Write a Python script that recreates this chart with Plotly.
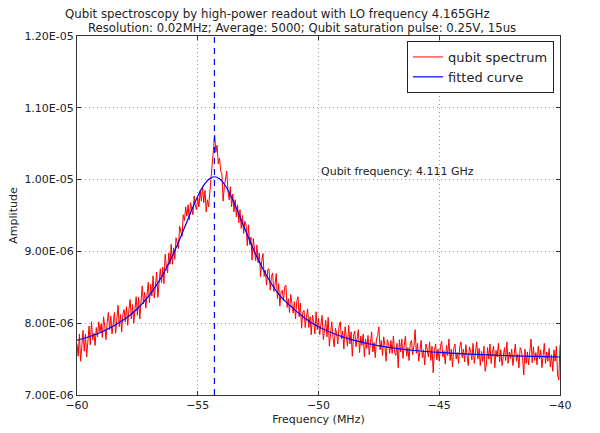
import numpy as np
import plotly.graph_objects as go

# ---- data ----
freq_start_mhz = -60.0
freq_stop_mhz = -40.0
freq_step_mhz = 0.05

# measured spectrum amplitude, in units of 1e-8 (one row per MHz)
spectrum_amp_1e8 = [
    771, 754, 785, 747, 768, 790, 761, 785, 753, 773, 796, 770, 802, 777, 786, 769, 794, 781, 802, 788,
    799, 780, 809, 795, 777, 801, 815, 791, 810, 785, 802, 815, 786, 802, 825, 795, 812, 788, 812, 819,
    802, 823, 797, 819, 833, 806, 826, 800, 823, 837, 811, 836, 806, 833, 852, 827, 843, 821, 841, 857,
    829, 854, 838, 866, 835, 859, 871, 836, 863, 876, 856, 878, 855, 896, 880, 870, 898, 882, 910, 882,
    905, 889, 919, 912, 904, 935, 927, 921, 951, 943, 962, 949, 965, 944, 968, 959, 951, 977, 963, 958,
    975, 962, 985, 970, 990, 968, 985, 955, 972, 962, 985, 1008, 1025, 1042, 1062, 1038, 1048, 1022, 1030, 1012,
    1008, 970, 990, 1003, 1012, 985, 972, 990, 962, 980, 955, 972, 948, 965, 940, 958, 932, 950, 925, 942,
    937, 908, 937, 909, 920, 888, 918, 903, 887, 909, 884, 898, 865, 887, 897, 865, 874, 853, 875, 876,
    846, 865, 870, 844, 853, 869, 834, 855, 824, 844, 846, 831, 851, 853, 822, 834, 815, 840, 827, 814,
    830, 806, 830, 837, 809, 828, 793, 815, 818, 794, 808, 820, 794, 809, 784, 811, 803, 785, 816, 791,
    807, 784, 799, 811, 777, 794, 804, 781, 808, 768, 792, 802, 780, 767, 793, 786, 771, 796, 802, 778,
    789, 764, 795, 782, 768, 797, 771, 788, 754, 782, 789, 767, 778, 791, 759, 782, 769, 785, 753, 778,
    765, 783, 756, 778, 788, 760, 773, 752, 778, 783, 795, 763, 776, 755, 781, 769, 747, 777, 772, 758,
    776, 758, 782, 760, 755, 772, 738, 777, 760, 778, 751, 769, 782, 754, 766, 748, 772, 776, 756, 768,
    791, 758, 772, 747, 767, 776, 752, 763, 742, 771, 764, 753, 774, 748, 768, 731, 762, 771, 749, 764,
    747, 768, 775, 753, 761, 743, 769, 755, 778, 748, 764, 739, 765, 771, 750, 759, 744, 767, 774, 752,
    764, 746, 770, 753, 741, 767, 761, 749, 772, 744, 758, 774, 750, 765, 741, 761, 747, 768, 733, 742,
    766, 750, 771, 744, 760, 768, 738, 762, 753, 772, 746, 763, 741, 758, 766, 748, 774, 744, 760, 751,
    764, 741, 759, 771, 747, 757, 738, 766, 762, 750, 728, 764, 744, 760, 742, 757, 778, 745, 767, 748,
    759, 742, 768, 750, 763, 738, 756, 772, 744, 760, 747, 765, 739, 756, 733, 763, 747, 768, 728, 721, 770,
]

# fitted curve samples (frequency in MHz, amplitude in units of 1e-6)
fit_freq_mhz = [-60, -59, -58, -57.5, -57, -56.5, -56, -55.5, -55.25, -55, -54.75, -54.5, -54.31,
                -54.1, -53.85, -53.6, -53.35, -53.1, -52.6, -52.1, -51.6, -51.1, -50.6, -50,
                -49, -48, -47, -46, -45, -44, -43, -42, -41, -40]
fit_amp_1e6 = [7.762, 7.874, 8.061, 8.202, 8.391, 8.644, 8.974, 9.371, 9.577, 9.768, 9.922, 10.017, 10.04,
               10.012, 9.911, 9.753, 9.561, 9.354, 8.959, 8.633, 8.383, 8.22, 8.08, 7.95,
               7.81, 7.72, 7.66, 7.62, 7.593, 7.573, 7.558, 7.546, 7.537, 7.529]

qubit_peak_mhz = -54.31
qubit_freq_label = "Qubit frequency: 4.111 GHz"
label_pos = (-50.0, 1.0e-5)

y_tick_vals = [7.0e-6, 8.0e-6, 9.0e-6, 1.0e-5, 1.1e-5, 1.2e-5]
y_tick_text = ["7.00E-06", "8.00E-06", "9.00E-06", "1.00E-05", "1.10E-05", "1.20E-05"]
x_tick_vals = [-60, -55, -50, -45, -40]

title_line1 = "Qubit spectroscopy by high-power readout with LO frequency 4.165GHz"
title_line2 = "Resolution: 0.02MHz; Average: 5000; Qubit saturation pulse: 0.25V, 15us"

# ---- build ----
n = len(spectrum_amp_1e8)
freq = np.linspace(freq_start_mhz, freq_stop_mhz, n)
amp = np.array(spectrum_amp_1e8) * 1e-8
fit_amp = np.array(fit_amp_1e6) * 1e-6

FONT = "DejaVu Sans"
TXT = "#222222"

fig = go.Figure()
fig.add_trace(go.Scatter(x=freq, y=amp, mode="lines", name="qubit spectrum",
                         line=dict(color="#ff0000", width=1)))
fig.add_trace(go.Scatter(x=fit_freq_mhz, y=fit_amp, mode="lines", name="fitted curve",
                         line=dict(color="#0000ff", width=1.2, shape="spline")))

fig.add_vline(x=qubit_peak_mhz, line=dict(color="#0000ff", width=1.2, dash="6px,5px"))

fig.add_annotation(x=label_pos[0], y=label_pos[1], xref="x", yref="y", text=qubit_freq_label,
                   showarrow=False, xanchor="left", yanchor="bottom",
                   font=dict(family=FONT, size=11, color=TXT))

L, R, T, B = 77, 40, 36, 38
PW, PH = 600 - L - R, 433 - T - B

fig.add_annotation(x=(277 - L) / PW, y=(433 - B - 13.5) / PH, xref="paper", yref="paper",
                   text=title_line1, showarrow=False, xanchor="center", yanchor="middle",
                   font=dict(family=FONT, size=11.8, color=TXT))
fig.add_annotation(x=(302 - L) / PW, y=(433 - B - 28) / PH, xref="paper", yref="paper",
                   text=title_line2, showarrow=False, xanchor="center", yanchor="middle",
                   font=dict(family=FONT, size=11.7, color=TXT))

axis_common = dict(showline=True, linecolor="#333333", linewidth=1, mirror="ticks",
                   ticks="inside", ticklen=4, tickcolor="#333333", tickwidth=1,
                   showgrid=True, gridcolor="#999999", gridwidth=1, griddash="1px,3px",
                   zeroline=False, automargin=False,
                   tickfont=dict(family=FONT, size=11, color=TXT))

fig.update_xaxes(range=[freq_start_mhz, freq_stop_mhz], tickvals=x_tick_vals,
                 title=dict(text="Frequency (MHz)", font=dict(family=FONT, size=11, color=TXT), standoff=4),
                 **axis_common)
fig.update_yaxes(range=[y_tick_vals[0], y_tick_vals[-1]], tickvals=y_tick_vals, ticktext=y_tick_text,
                 title=dict(text="Amplitude", font=dict(family=FONT, size=11, color=TXT), standoff=4),
                 **axis_common)

fig.update_layout(
    width=600, height=433,
    margin=dict(l=L, r=R, t=T, b=B, autoexpand=False),
    paper_bgcolor="white", plot_bgcolor="white",
    showlegend=True,
    legend=dict(x=(554 - L) / PW, y=(433 - B - 41) / PH, xanchor="right", yanchor="top",
                bgcolor="white", bordercolor="#222222", borderwidth=1,
                font=dict(family=FONT, size=13, color=TXT), tracegroupgap=0),
    font=dict(family=FONT, color=TXT),
)

fig.write_html("out.html", config={"displayModeBar": False},
               post_script="document.body.style.margin='0';document.body.style.padding='0';")
